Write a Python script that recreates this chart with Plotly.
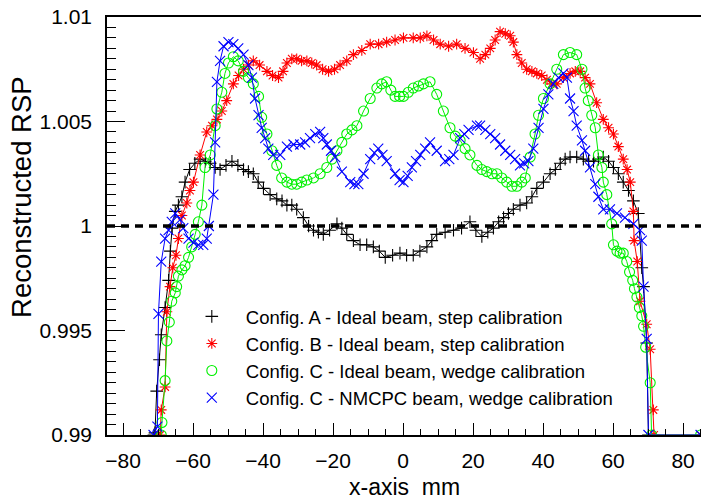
import plotly.graph_objects as go

# Config. A - Ideal beam, step calibration
a_x = [-71.2, -70.9, -70.4, -69.6, -69.1, -68.0, -67.0, -66.5, -66.0, -65.1, -64.2, -63.2, -62.3, -61.0, -59.5,
       -58.0, -56.5, -55.1, -53.7, -52.3, -50.6, -48.9, -47.2, -45.6, -44.2, -42.8, -41.4, -39.9, -38.0, -36.1,
       -34.6, -33.2, -31.8, -30.4, -28.5, -27.0, -25.6, -24.2, -22.8, -21.0, -18.9, -17.5, -16.1, -14.2, -12.3,
       -10.4, -8.5, -6.8, -5.1, -3.0, -0.9, 1.0, 2.9, 4.8, 6.8, 8.2, 9.6, 12.0, 14.4, 16.7, 19.1, 20.8, 22.5,
       24.2, 25.8, 27.3, 28.7, 30.1, 31.5, 33.4, 35.3, 36.8, 38.2, 40.1, 42.0, 43.5, 44.9, 46.3, 47.7, 49.6,
       51.5, 53.0, 54.4, 55.8, 57.2, 58.7, 60.1, 61.5, 62.9, 64.4, 65.8, 67.2, 68.2, 68.7, 69.6, 70.1]
a_y = [0.9900, 0.9901, 0.9921, 0.9936, 0.9948, 0.9961, 0.9974, 0.9988, 0.9999, 1.0007, 1.0010, 1.0014, 1.0021,
       1.0027, 1.0030, 1.0032, 1.0031, 1.0030, 1.0028, 1.0027, 1.0029, 1.0031, 1.0029, 1.0027, 1.0026, 1.0025,
       1.0021, 1.0018, 1.0015, 1.0013, 1.0012, 1.0010, 1.0010, 1.0008, 1.0004, 1.0000, 0.9998, 0.9997, 0.9996,
       0.9998, 1.0001, 0.9999, 0.9996, 0.9993, 0.9991, 0.9991, 0.9990, 0.9988, 0.9985, 0.9986, 0.9987, 0.9986,
       0.9986, 0.9988, 0.9990, 0.9993, 0.9996, 0.9997, 0.9998, 0.9999, 1.0002, 0.9998, 0.9995, 0.9997, 0.9999,
       1.0002, 1.0004, 1.0006, 1.0008, 1.0010, 1.0011, 1.0014, 1.0018, 1.0021, 1.0025, 1.0027, 1.0030, 1.0032,
       1.0033, 1.0033, 1.0032, 1.0031, 1.0031, 1.0032, 1.0033, 1.0031, 1.0028, 1.0025, 1.0021, 1.0017, 1.0012,
       1.0006, 0.9980, 0.9971, 0.9944, 0.9900]

# Config. B - Ideal beam, step calibration
b_x = [-69.4, -69.1, -68.0, -67.5, -66.6, -65.8, -64.9, -64.2, -63.2, -61.8, -60.9, -59.9, -58.0, -56.1, -54.6,
       -53.2, -51.8, -50.4, -48.5, -47.0, -45.6, -44.2, -42.8, -41.0, -38.9, -37.3, -35.6, -34.3, -33.2, -31.8,
       -30.4, -29.0, -27.5, -26.1, -24.7, -23.0, -21.3, -19.6, -18.0, -16.1, -14.2, -11.8, -9.4, -7.0, -4.7,
       -2.3, 0.1, 2.9, 4.9, 6.8, 8.7, 10.6, 13.0, 15.3, 17.7, 20.1, 22.0, 23.5, 24.9, 26.3, 27.7, 29.2, 30.6,
       31.5, 32.5, 33.9, 35.3, 36.8, 38.2, 39.6, 41.1, 42.5, 43.9, 45.8, 47.7, 49.2, 50.6, 52.0, 53.4, 55.3,
       57.2, 58.7, 60.1, 61.5, 62.9, 64.0, 64.9, 65.8, 66.0, 66.9, 67.7, 69.6, 70.6, 71.5, 71.7, 85.0]
b_y = [0.9900, 0.9912, 0.9923, 0.9959, 0.9971, 0.9980, 0.9986, 0.9994, 1.0005, 1.0011, 1.0017, 1.0021, 1.0034,
       1.0045, 1.0048, 1.0051, 1.0055, 1.0060, 1.0068, 1.0072, 1.0075, 1.0077, 1.0079, 1.0077, 1.0074, 1.0072,
       1.0071, 1.0074, 1.0078, 1.0080, 1.0080, 1.0079, 1.0079, 1.0078, 1.0077, 1.0075, 1.0074, 1.0075, 1.0077,
       1.0079, 1.0082, 1.0084, 1.0087, 1.0087, 1.0088, 1.0089, 1.0090, 1.0090, 1.0090, 1.0091, 1.0089, 1.0087,
       1.0086, 1.0087, 1.0085, 1.0083, 1.0080, 1.0082, 1.0085, 1.0089, 1.0093, 1.0092, 1.0091, 1.0088, 1.0082,
       1.0078, 1.0075, 1.0074, 1.0073, 1.0072, 1.0070, 1.0068, 1.0068, 1.0071, 1.0073, 1.0074, 1.0074, 1.0071,
       1.0068, 1.0059, 1.0051, 1.0047, 1.0044, 1.0038, 1.0032, 1.0027, 1.0021, 1.0007, 0.9993, 0.9983, 0.9964,
       0.9953, 0.9941, 0.9912, 0.9900, 0.9900]

# Config. C - Ideal beam, wedge calibration
c_x = [-69.1, -68.9, -68.0, -67.5, -66.8, -66.1, -65.1, -64.7, -64.2, -63.2, -62.3, -61.3, -60.4, -59.4, -58.5,
       -57.5, -56.6, -55.1, -53.7, -53.2, -51.8, -50.9, -49.9, -48.5, -47.1, -45.6, -44.2, -42.8, -41.3, -40.4,
       -38.9, -37.5, -36.1, -34.7, -33.2, -31.8, -30.4, -29.0, -27.5, -25.6, -23.7, -21.8, -20.3, -18.9, -17.5,
       -16.1, -14.6, -13.2, -11.3, -9.4, -7.5, -6.1, -4.7, -3.5, -2.3, -1.0, 0.1, 1.5, 2.9, 4.4, 5.8, 7.7, 9.6,
       11.5, 13.4, 14.9, 16.3, 17.7, 19.1, 21.1, 22.5, 23.9, 25.4, 26.8, 28.2, 29.6, 31.1, 32.5, 33.9, 34.9,
       36.3, 37.7, 38.7, 40.1, 42.0, 43.9, 45.8, 47.7, 49.6, 51.1, 52.0, 52.9, 53.9, 54.9, 55.8, 56.8, 57.2,
       58.2, 59.6, 60.1, 61.1, 62.0, 62.9, 63.9, 64.7, 65.6, 66.1, 66.8, 67.5, 68.2, 68.7, 69.3, 70.6, 71.0, 85.0]
c_y = [0.9900, 0.9906, 0.9926, 0.9945, 0.9954, 0.9964, 0.9968, 0.9971, 0.9976, 0.9979, 0.9981, 0.9985, 0.9990,
       0.9996, 1.0002, 1.0010, 1.0028, 1.0034, 1.0048, 1.0056, 1.0064, 1.0073, 1.0078, 1.0081, 1.0079, 1.0074,
       1.0071, 1.0068, 1.0062, 1.0052, 1.0044, 1.0036, 1.0029, 1.0023, 1.0021, 1.0020, 1.0020, 1.0021, 1.0022,
       1.0023, 1.0025, 1.0028, 1.0032, 1.0036, 1.0040, 1.0044, 1.0046, 1.0048, 1.0055, 1.0061, 1.0066, 1.0068,
       1.0069, 1.0065, 1.0062, 1.0062, 1.0062, 1.0064, 1.0066, 1.0067, 1.0068, 1.0069, 1.0063, 1.0055, 1.0047,
       1.0043, 1.0041, 1.0037, 1.0034, 1.0029, 1.0027, 1.0026, 1.0025, 1.0025, 1.0023, 1.0021, 1.0019, 1.0019,
       1.0021, 1.0023, 1.0033, 1.0044, 1.0053, 1.0061, 1.0068, 1.0075, 1.0082, 1.0083, 1.0082, 1.0075, 1.0066,
       1.0060, 1.0053, 1.0047, 1.0034, 1.0028, 1.0021, 1.0015, 1.0001, 0.9991, 0.9988, 0.9987, 0.9987, 0.9983,
       0.9978, 0.9974, 0.9970, 0.9966, 0.9961, 0.9957, 0.9952, 0.9942, 0.9925, 0.9900, 0.9900]

# Config. C - NMCPC beam, wedge calibration
d_x = [-71.3, -70.2, -69.9, -69.1, -68.0, -67.0, -66.1, -65.1, -63.7, -62.8, -61.3, -59.9, -58.5, -57.1, -56.1,
       -55.5, -54.2, -53.7, -53.2, -52.3, -51.3, -49.9, -48.5, -47.1, -45.6, -44.2, -43.2, -42.3, -41.3, -40.4,
       -39.4, -38.5, -37.1, -35.1, -33.2, -31.3, -29.4, -28.0, -26.6, -25.1, -23.7, -22.8, -21.8, -20.6, -19.4,
       -17.5, -15.1, -13.9, -12.8, -11.3, -9.4, -8.2, -7.1, -5.9, -4.7, -2.3, -1.0, 0.1, 1.3, 2.5, 3.7, 4.9,
       6.3, 7.7, 9.6, 12.0, 13.2, 14.4, 16.3, 17.5, 18.7, 21.1, 22.0, 23.5, 24.9, 26.3, 27.7, 29.2, 30.6, 32.0,
       33.4, 34.6, 35.8, 37.2, 38.7, 40.1, 41.5, 42.9, 44.4, 45.8, 46.8, 47.7, 48.7, 49.6, 51.1, 52.0, 53.4,
       54.9, 55.8, 57.2, 59.1, 61.1, 63.4, 65.8, 67.7, 68.2, 68.7, 69.6, 70.1, 85.0]
d_y = [0.9900, 0.9904, 0.9958, 0.9983, 0.9994, 0.9998, 1.0002, 1.0006, 1.0003, 0.9999, 0.9994, 0.9992, 0.9991,
       0.9991, 0.9994, 1.0000, 1.0015, 1.0040, 1.0069, 1.0079, 1.0086, 1.0088, 1.0087, 1.0085, 1.0082, 1.0077,
       1.0071, 1.0061, 1.0053, 1.0047, 1.0042, 1.0037, 1.0034, 1.0034, 1.0038, 1.0039, 1.0039, 1.0040, 1.0042,
       1.0044, 1.0045, 1.0042, 1.0039, 1.0036, 1.0033, 1.0026, 1.0021, 1.0020, 1.0020, 1.0025, 1.0032, 1.0035,
       1.0037, 1.0034, 1.0031, 1.0025, 1.0022, 1.0021, 1.0024, 1.0028, 1.0031, 1.0034, 1.0037, 1.0040, 1.0036,
       1.0031, 1.0032, 1.0034, 1.0042, 1.0044, 1.0046, 1.0048, 1.0048, 1.0046, 1.0044, 1.0042, 1.0039, 1.0036,
       1.0034, 1.0032, 1.0029, 1.0030, 1.0031, 1.0037, 1.0047, 1.0056, 1.0063, 1.0068, 1.0071, 1.0073, 1.0071,
       1.0061, 1.0055, 1.0048, 1.0041, 1.0036, 1.0028, 1.0020, 1.0014, 1.0008, 1.0008, 1.0006, 1.0004, 1.0001,
       0.9998, 0.9993, 0.9971, 0.9946, 0.9900, 0.9900]

names = ["Config. A - Ideal beam, step calibration",
         "Config. B - Ideal beam, step calibration",
         "Config. C - Ideal beam, wedge calibration",
         "Config. C - NMCPC beam, wedge calibration"]
colors = ["#000000", "#ff0000", "#00f000", "#0000ff"]
symbols = ["cross-thin-open", "asterisk-open", "circle-open", "x-thin-open"]
sizes = [9, 9, 10, 10]
xs = [a_x, b_x, c_x, d_x]
ys = [a_y, b_y, c_y, d_y]

fig = go.Figure()
for i in range(4):
    fig.add_trace(go.Scatter(x=xs[i], y=ys[i], mode="lines+markers", showlegend=False,
                             line=dict(color=colors[i], width=1),
                             marker=dict(symbol=symbols[i], size=sizes[i], color=colors[i],
                                         line=dict(color=colors[i], width=1.1))))
# legend entries: markers only
for i in range(4):
    fig.add_trace(go.Scatter(x=[None], y=[None], mode="markers", name=names[i],
                             marker=dict(symbol=symbols[i], size=sizes[i], color=colors[i],
                                         line=dict(color=colors[i], width=1.1))))

fig.add_shape(type="line", xref="paper", yref="y", x0=0, x1=1, y0=1, y1=1, layer="above",
              line=dict(color="black", width=3.5, dash="8px,6px"))

# page body has an 8px margin, so the figure is sized to fit inside the window
font = "Liberation Sans, Arial, Helvetica, sans-serif"
fig.update_layout(
    width=701, height=494,
    margin=dict(l=99, r=7, t=7, b=67),
    paper_bgcolor="white", plot_bgcolor="white",
    font=dict(family=font, color="black"),
    showlegend=True,
    legend=dict(x=0.119, y=0.328, xanchor="left", yanchor="top", bgcolor="rgba(0,0,0,0)",
                font=dict(size=18.5), itemwidth=58, traceorder="normal"),
    annotations=[
        dict(text="Reconstructed RSP", textangle=-90, xref="paper", yref="paper", x=-0.145, y=0.569,
             xanchor="center", yanchor="middle", showarrow=False, font=dict(size=27.5)),
        dict(text="x-axis  mm", xref="paper", yref="paper", x=0.5, y=-0.124,
             xanchor="center", yanchor="middle", showarrow=False, font=dict(size=23)),
    ],
)
fig.update_xaxes(range=[-84.6, 85.4], showgrid=False, zeroline=False, showline=True, linecolor="black",
                 linewidth=1.5, mirror=True, ticks="inside", ticklen=12, tickwidth=1.2, tickcolor="black",
                 tick0=0, dtick=20, tickfont=dict(size=21), ticklabelstandoff=6, ticklabeloverflow="allow",
                 minor=dict(dtick=5, ticks="inside", ticklen=6, tickwidth=1.2, tickcolor="black"))
fig.update_yaxes(range=[0.99, 1.01], showgrid=False, zeroline=False, showline=True, linecolor="black",
                 linewidth=1.5, mirror=True, ticks="inside", ticklen=18, tickwidth=1.2, tickcolor="black",
                 tickvals=[0.99, 0.995, 1.0, 1.005, 1.01], ticktext=["0.99", "0.995", "1", "1.005", "1.01"],
                 tickfont=dict(size=21), ticklabelstandoff=9, ticklabeloverflow="allow", automargin=False,
                 minor=dict(dtick=0.0005, ticks="inside", ticklen=9, tickwidth=1.2, tickcolor="black"))

fig.write_html("out.html")
